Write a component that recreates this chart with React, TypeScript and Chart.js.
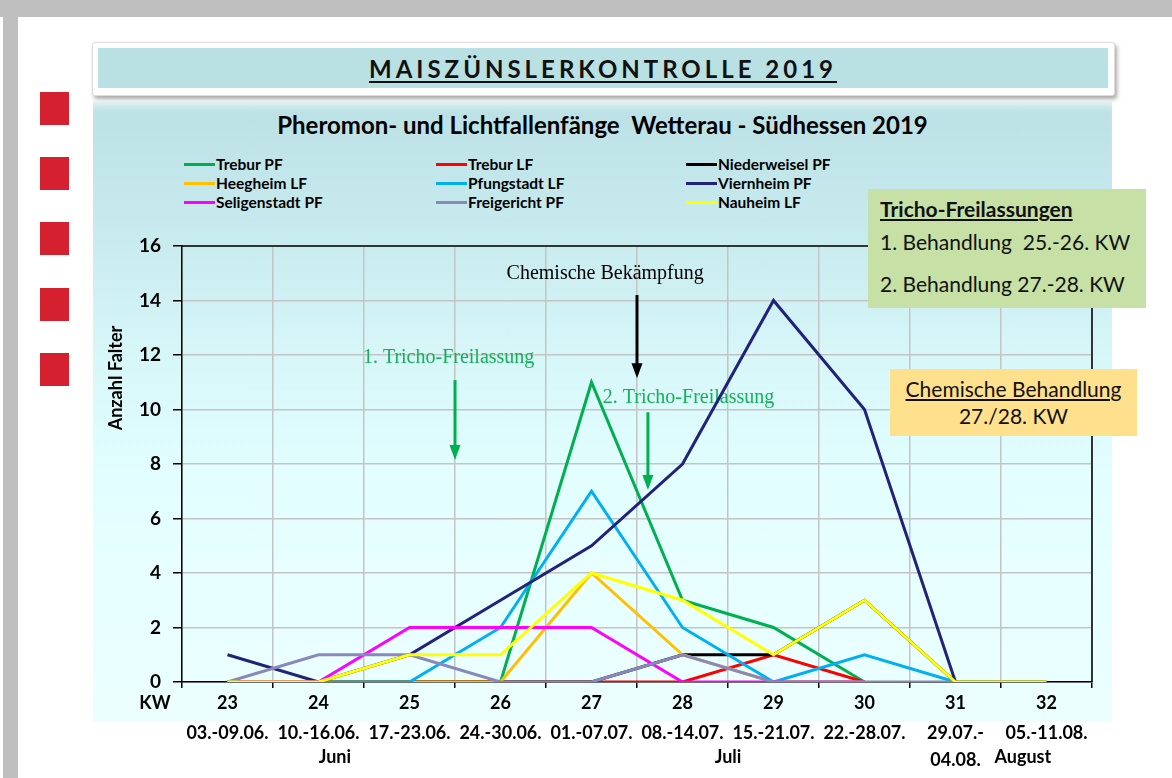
import React, { useEffect, useRef } from 'react';
import { Chart, registerables } from 'chart.js';

Chart.register(...registerables);

const weeks = ['23', '24', '25', '26', '27', '28', '29', '30', '31', '32'];
const dateRanges: (string | string[])[] = [
  '03.-09.06.', '10.-16.06.', '17.-23.06.', '24.-30.06.', '01.-07.07.',
  '08.-14.07.', '15.-21.07.', '22.-28.07.', ['29.07.-', '04.08.'], '05.-11.08.',
];
const months = ['Juni', 'Juli', 'August'];

const seriesNames = [
  'Trebur PF', 'Trebur LF', 'Niederweisel PF',
  'Heegheim LF', 'Pfungstadt LF', 'Viernheim PF',
  'Seligenstadt PF', 'Freigericht PF', 'Nauheim LF',
];
const seriesColors = [
  '#00B050', '#FF0000', '#000000',
  '#FFC000', '#00B0F0', '#22227A',
  '#FF00FF', '#8888BA', '#FFFF00',
];

const treburPF = [0, 0, 0, 0, 11, 3, 2, 0, null, null];
const treburLF = [0, 0, 0, 0, 0, 0, 1, 0, null, null];
const niederweiselPF = [0, 0, 0, 0, 0, 1, 1, 3, 0, 0];
const heegheimLF = [0, 0, 0, 0, 4, 1, 0, 0, null, null];
const pfungstadtLF = [0, 0, 0, 2, 7, 2, 0, 1, 0, null];
const viernheimPF = [1, 0, 1, 3, 5, 8, 14, 10, 0, null];
const seligenstadtPF = [0, 0, 2, 2, 2, 0, 0, 0, null, null];
const freigerichtPF = [0, 1, 1, 0, 0, 1, 0, 0, 0, null];
const nauheimLF = [0, 0, 1, 1, 4, 3, 1, 3, 0, 0];

const seriesValues = [
  treburPF, treburLF, niederweiselPF,
  heegheimLF, pfungstadtLF, viernheimPF,
  seligenstadtPF, freigerichtPF, nauheimLF,
];

const yMin = 0;
const yMax = 16;
const yStep = 2;

const chartTitle = 'MAISZÜNSLERKONTROLLE 2019';
const chartSubtitle = 'Pheromon- und Lichtfallenfänge  Wetterau - Südhessen 2019';
const yAxisTitle = 'Anzahl Falter';
const xAxisTitle = 'KW';
const chemLabel = 'Chemische Bekämpfung';
const tricho1Label = '1. Tricho-Freilassung';
const tricho2Label = '2. Tricho-Freilassung';

const FONT = 'Lato, "Open Sans", "Liberation Sans", sans-serif';
const SERIF = '"Liberation Serif", "DejaVu Serif", serif';

function drawArrow(ctx: CanvasRenderingContext2D, x: number, y1: number, y2: number, color: string) {
  ctx.save();
  ctx.strokeStyle = color;
  ctx.fillStyle = color;
  ctx.lineWidth = 3;
  ctx.beginPath();
  ctx.moveTo(x, y1);
  ctx.lineTo(x, y2 - 12);
  ctx.stroke();
  ctx.beginPath();
  ctx.moveTo(x - 5.5, y2 - 15);
  ctx.lineTo(x + 5.5, y2 - 15);
  ctx.lineTo(x, y2);
  ctx.closePath();
  ctx.fill();
  ctx.restore();
}

const extrasPlugin = {
  id: 'extras',
  beforeDatasetsDraw(chart: any) {
    const { ctx } = chart;
    const xs = chart.scales.x;
    const ys = chart.scales.y;
    const cw = xs.getPixelForValue(1) - xs.getPixelForValue(0);
    const b2728 = (xs.getPixelForValue(4) + xs.getPixelForValue(5)) / 2;
    const b2526 = (xs.getPixelForValue(2) + xs.getPixelForValue(3)) / 2;
    ctx.save();
    ctx.textAlign = 'center';
    ctx.textBaseline = 'middle';
    ctx.font = '20px ' + SERIF;
    ctx.fillStyle = '#000000';
    ctx.fillText(chemLabel, b2728 - 0.35 * cw, ys.getPixelForValue(15));
    ctx.fillStyle = '#14B05A';
    ctx.fillText(tricho1Label, b2526 - 0.07 * cw, ys.getPixelForValue(11.9));
    ctx.fillText(tricho2Label, xs.getPixelForValue(5) + 6, ys.getPixelForValue(10.42));
    ctx.restore();
    drawArrow(ctx, b2728, ys.getPixelForValue(14.2), ys.getPixelForValue(11.15), '#000000');
    drawArrow(ctx, b2526, ys.getPixelForValue(11.08), ys.getPixelForValue(8.15), '#00B050');
    drawArrow(ctx, b2728 + 0.12 * cw, ys.getPixelForValue(9.9), ys.getPixelForValue(7.05), '#00B050');
  },
  afterDraw(chart: any) {
    const { ctx, chartArea } = chart;
    const xs = chart.scales.x;
    const cw = xs.getPixelForValue(1) - xs.getPixelForValue(0);
    ctx.save();
    ctx.strokeStyle = '#000000';
    ctx.lineWidth = 1.5;
    ctx.beginPath();
    ctx.moveTo(chartArea.left, chartArea.top);
    ctx.lineTo(chartArea.right, chartArea.top);
    ctx.lineTo(chartArea.right, chartArea.bottom);
    ctx.stroke();

    ctx.fillStyle = '#000000';
    ctx.textAlign = 'center';
    ctx.textBaseline = 'middle';

    // y-axis title
    ctx.save();
    ctx.font = 'bold 18px ' + FONT;
    ctx.translate(chartArea.left - 66, (chartArea.top + chartArea.bottom) / 2 - 86);
    ctx.rotate(-Math.PI / 2);
    ctx.fillText(yAxisTitle, 0, 0);
    ctx.restore();

    ctx.font = 'bold 18px ' + FONT;
    ctx.fillText(xAxisTitle, chartArea.left - 27, xs.top + 21);

    dateRanges.forEach((d, i) => {
      const x = xs.getPixelForValue(i);
      const lines = Array.isArray(d) ? d : [d];
      lines.forEach((t, j) => ctx.fillText(t, x, xs.top + 51 + j * 27));
    });
    const monthX = [
      xs.getPixelForValue(1) + 0.18 * cw,
      (xs.getPixelForValue(5) + xs.getPixelForValue(6)) / 2,
      xs.getPixelForValue(9) - 0.26 * cw,
    ];
    months.forEach((m, i) => ctx.fillText(m, monthX[i], xs.top + 75));
    ctx.restore();
  },
};

export default function App() {
  const ref = useRef<HTMLCanvasElement | null>(null);

  useEffect(() => {
    document.body.style.margin = '0';
    if (!ref.current) return;
    const chart = new Chart(ref.current, {
      type: 'line',
      data: {
        labels: weeks,
        datasets: seriesNames.map((name, i) => ({
          label: name,
          data: seriesValues[i],
          borderColor: seriesColors[i],
          backgroundColor: seriesColors[i],
          borderWidth: 3,
          pointRadius: 0,
          tension: 0,
          fill: false,
          order: seriesNames.length - i,
        })),
      },
      options: {
        animation: false,
        responsive: false,
        devicePixelRatio: 1,
        layout: { padding: { left: 102, right: 80, top: 246, bottom: 6 } },
        plugins: { legend: { display: false }, title: { display: false }, tooltip: { enabled: false } },
        scales: {
          x: {
            type: 'category',
            offset: true,
            grid: { offset: true, color: '#C4C4C4', lineWidth: 1.5, tickColor: '#000000', tickLength: 6 },
            border: { color: '#000000', width: 1.5 },
            ticks: { color: '#000000', font: { family: FONT, size: 18, weight: 'bold' }, padding: 4, maxRotation: 0, autoSkip: false },
            afterFit: (s: any) => { s.height = 90; },
          },
          y: {
            min: yMin,
            max: yMax,
            grid: { color: '#C4C4C4', lineWidth: 1.5, tickColor: '#000000', tickLength: 9 },
            border: { color: '#000000', width: 1.5 },
            ticks: { stepSize: yStep, color: '#000000', font: { family: FONT, size: 19, weight: 'bold' }, padding: 12 },
            afterFit: (s: any) => { s.width = 80; },
          },
        },
      } as any,
      plugins: [extrasPlugin],
    });
    return () => chart.destroy();
  }, []);

  const redSquares = [92, 157, 222, 288, 353];
  const legendCols = [184, 436, 686];
  const legendRows = [164, 183, 202];

  return (
    <div style={{ position: 'fixed', left: 0, top: 0, width: 1172, height: 778, background: '#FFFFFF', overflow: 'hidden', fontFamily: FONT }}>
      <div style={{ position: 'absolute', left: 0, top: 0, width: 1172, height: 17, background: '#BFBFBF' }} />
      <div style={{ position: 'absolute', left: 3, top: 0, width: 15, height: 778, background: '#BFBFBF' }} />
      {redSquares.map((y) => (
        <div key={y} style={{ position: 'absolute', left: 40, top: y, width: 29, height: 33, background: '#D4202F' }} />
      ))}
      <div style={{ position: 'absolute', left: 92, top: 42, width: 1021, height: 52, background: '#FFFFFF', border: '1px solid #DDDDDD', borderRadius: 3, boxShadow: '2px 3px 4px rgba(0,0,0,0.35)' }} />
      <div style={{ position: 'absolute', left: 98, top: 48, width: 1010, height: 40, background: '#B9E0E3', display: 'flex', alignItems: 'center', justifyContent: 'center' }}>
        <span style={{ fontWeight: 'bold', fontSize: 24, letterSpacing: 4, textDecoration: 'underline', textUnderlineOffset: 3, color: '#111111' }}>{chartTitle}</span>
      </div>
      <div style={{ position: 'absolute', left: 93, top: 101, width: 1019, height: 621, background: 'linear-gradient(to bottom, #BCE1E5 0%, #C6EAED 20%, #D6F6F8 40%, #E2FEFF 60%, #E8FFFF 80%, #ECFFFF 100%)', boxShadow: 'inset 0 10px 8px -6px rgba(255,255,255,0.7)' }} />
      <div style={{ position: 'absolute', left: 93, top: 109, width: 1019, textAlign: 'center', fontWeight: 'bold', fontSize: 24, lineHeight: '32px', color: '#000000', whiteSpace: 'pre' }}>{chartSubtitle}</div>
      {seriesNames.map((name, i) => (
        <div key={name} style={{ position: 'absolute', left: legendCols[i % 3], top: legendRows[Math.floor(i / 3)] - 10, height: 20, display: 'flex', alignItems: 'center' }}>
          <div style={{ width: 31, height: 3, background: seriesColors[i] }} />
          <span style={{ fontWeight: 'bold', fontSize: 15.5, color: '#000000', marginLeft: 1 }}>{name}</span>
        </div>
      ))}
      <canvas ref={ref} width={1172} height={778} style={{ position: 'absolute', left: 0, top: 0, width: 1172, height: 778 }} />
      <div style={{ position: 'absolute', left: 868, top: 189, width: 278, height: 119, background: '#C6E0A5', color: '#111111', fontSize: 21, lineHeight: '26px' }}>
        <div style={{ position: 'absolute', left: 12, top: 7, fontWeight: 'bold', textDecoration: 'underline', textUnderlineOffset: 2 }}>Tricho-Freilassungen</div>
        <div style={{ position: 'absolute', left: 12, top: 40, whiteSpace: 'pre' }}>{'1. Behandlung  25.-26. KW'}</div>
        <div style={{ position: 'absolute', left: 12, top: 82, whiteSpace: 'pre' }}>{'2. Behandlung 27.-28. KW'}</div>
      </div>
      <div style={{ position: 'absolute', left: 890, top: 369, width: 247, height: 67, background: '#FFE08C', color: '#111111', fontSize: 21, lineHeight: '26px', textAlign: 'center' }}>
        <div style={{ position: 'absolute', left: 0, right: 0, top: 7, textDecoration: 'underline', textUnderlineOffset: 2 }}>Chemische Behandlung</div>
        <div style={{ position: 'absolute', left: 0, right: 0, top: 34 }}>27./28. KW</div>
      </div>
    </div>
  );
}
